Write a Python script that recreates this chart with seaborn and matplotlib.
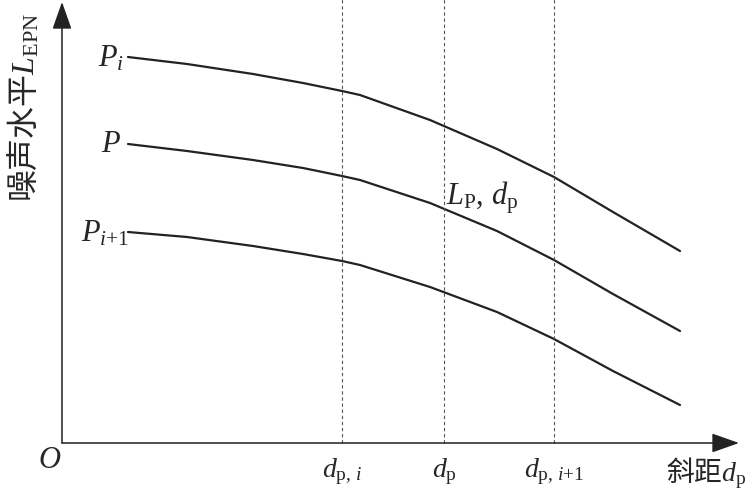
import numpy as np
import pandas as pd
import seaborn as sns
import matplotlib.pyplot as plt

sns.set_theme(style="white")
plt.rcParams["font.family"] = ["Liberation Serif", "Noto Sans CJK SC", "DejaVu Sans"]
plt.rcParams["mathtext.fontset"] = "custom"
plt.rcParams["mathtext.rm"] = "Liberation Serif"
plt.rcParams["mathtext.it"] = "Liberation Serif:italic"

# curve values (distance from origin, level above axis)
dist = [66, 125, 191, 241, 280, 298, 368, 435, 492, 551, 618]
level_pi = [386, 379, 369, 360, 352, 348, 323, 294, 266, 231, 192]
level_p = [299, 292, 283, 275, 267, 263, 240, 212, 183, 149, 112]
level_pi1 = [211, 206, 197, 189, 182, 178, 156, 131, 104, 72, 38]
curve_names = ["Pi", "P", "Pi1"]

# marked distances on the slant axis
mark_dist = [280, 382, 492]
mark_labels = [r"$d_{\mathrm{p},\,i}$", r"$d_{\mathrm{p}}$", r"$d_{\mathrm{p},\,i\mathrm{+1}}$"]

df = pd.DataFrame({
    "dist": dist * 3,
    "level": level_pi + level_p + level_pi1,
    "curve": np.repeat(curve_names, len(dist)),
})

fig = plt.figure(figsize=(7.46, 5.02), dpi=100)
ax = fig.add_axes([0, 0, 1, 1])
ax.set_axis_off()
ax.set_xlim(-62, 684)
ax.set_ylim(-58, 444)

sns.lineplot(data=df, x="dist", y="level", hue="curve",
             palette=["#222222"] * 3, linewidth=1.6, legend=False, ax=ax)

# axes with arrows
arrow = dict(arrowstyle="-|>,head_length=0.85,head_width=0.3", color="#222222",
             lw=1.1, shrinkA=0, shrinkB=0, mutation_scale=20)
ax.annotate("", xy=(677, 0), xytext=(0, 0), arrowprops=arrow)
ax.annotate("", xy=(0, 441), xytext=(0, 0), arrowprops=arrow)

for d, lab in zip(mark_dist, mark_labels):
    ax.plot([d, d], [0, 444], color="#555555", lw=0.8, ls=(0, (3, 2.5)))
    ax.text(d, -12, lab, ha="center", va="top", fontsize=20)

# curve labels
ax.text(62, 385, r"$P_{i}$", ha="right", va="center", fontsize=22)
ax.text(59, 300, r"$P$", ha="right", va="center", fontsize=22)
ax.text(67, 210, r"$P_{i\mathrm{+1}}$", ha="right", va="center", fontsize=22)
ax.text(384, 246, r"$L_{\mathrm{P}},\,d_{\mathrm{p}}$", ha="left", va="center", fontsize=22)

ax.text(-1, -2, r"$O$", ha="right", va="top", fontsize=22)
ax.text(684, -11, "斜距$d_{\\mathrm{p}}$", ha="right", va="top", fontsize=20,
        family=["Noto Sans CJK SC", "Liberation Serif"])
ax.text(-38, 337, "噪声水平$L_{\\mathrm{EPN}}$", ha="center", va="center", rotation=90,
        fontsize=23, family=["Noto Sans CJK SC", "Liberation Serif"])

plt.savefig("out.png", dpi=100)
